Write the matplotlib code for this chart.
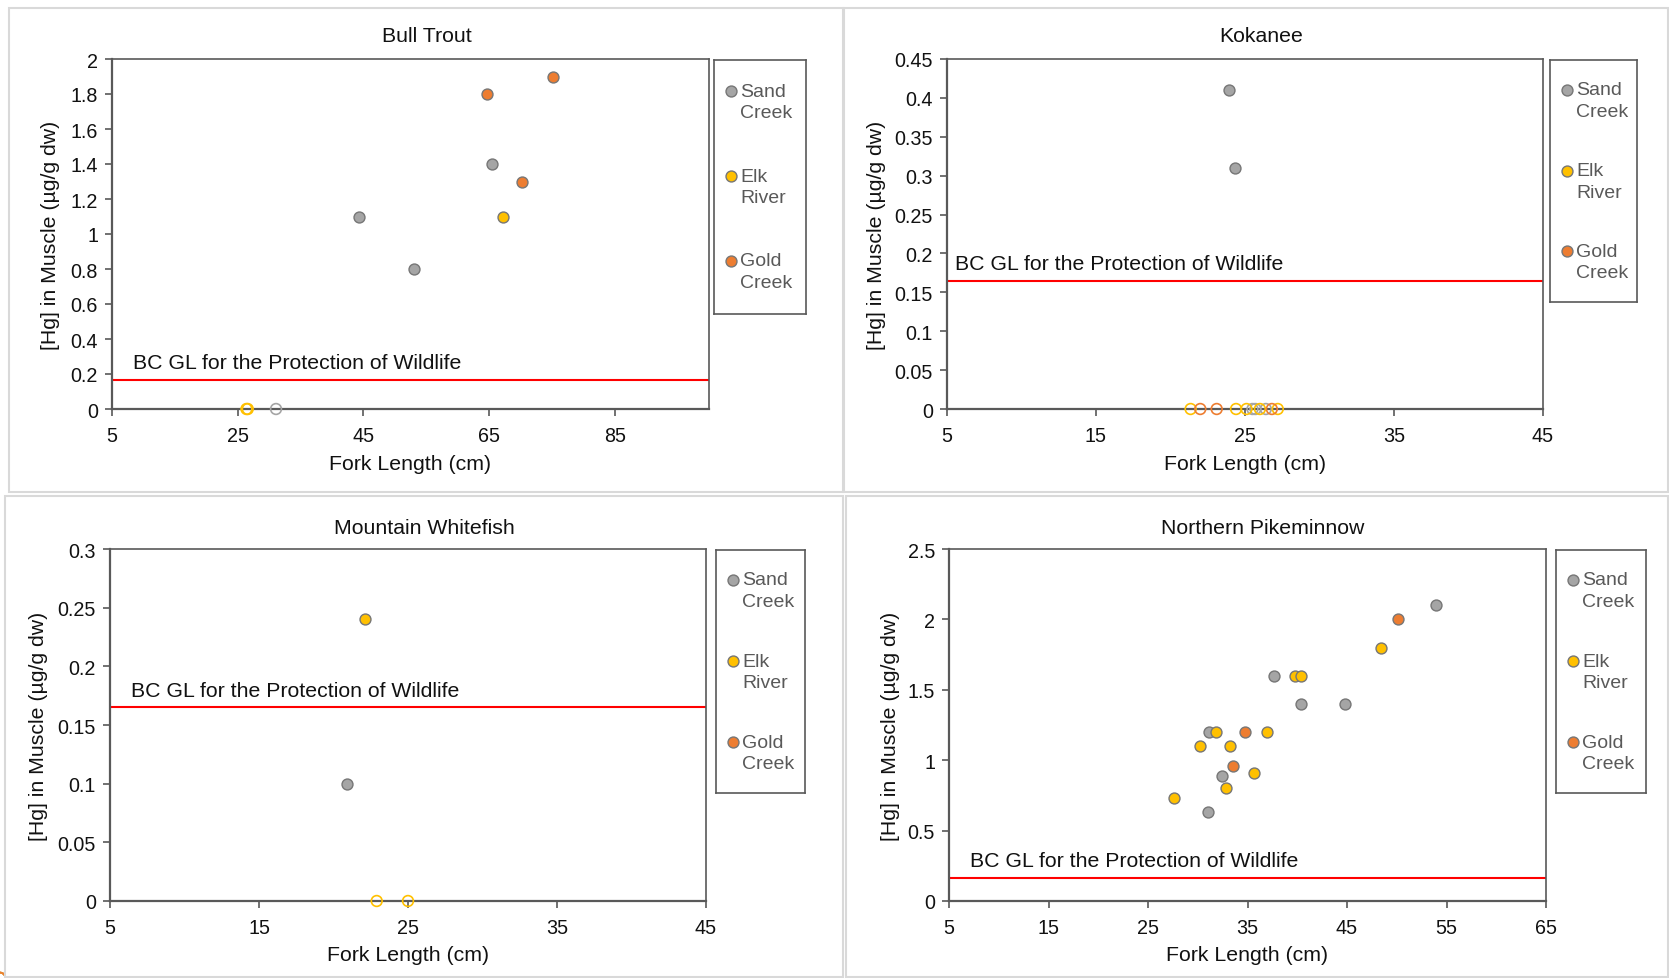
import numpy as np
import matplotlib.pyplot as plt
from matplotlib.patches import Rectangle
from matplotlib.ticker import FuncFormatter
import matplotlib.transforms as mtransforms

plt.rcParams['font.family'] = ['Liberation Sans', 'DejaVu Sans']

# ---- data (fork length cm, [Hg] ug/g dw); zeros are non-detects ----
series = ["Sand Creek", "Elk River", "Gold Creek"]
colors = ["#A5A5A5", "#FFC000", "#ED7D31"]

bull_x = [[44.3, 53.0, 65.5], [67.2], [64.7, 75.2, 70.3]]
bull_y = [[1.1, 0.8, 1.4], [1.1], [1.8, 1.9, 1.3]]
bull_nd = [[31.1], [26.4, 26.6], []]

kok_x = [[23.9, 24.3], [], []]
kok_y = [[0.41, 0.31], [], []]
kok_nd = [[25.5, 25.7, 26.4], [21.35, 24.4, 25.1, 26.0, 27.2], [22.0, 23.1, 26.8]]

mwf_x = [[20.9], [22.1], []]
mwf_y = [[0.10], [0.24], []]
mwf_nd = [[], [22.9, 25.0], []]

npm_x = [[53.9, 37.7, 40.4, 44.8, 31.1, 32.4, 31.0],
         [48.4, 39.8, 40.4, 31.8, 37.0, 30.2, 33.2, 35.7, 32.8, 27.6],
         [50.1, 34.7, 33.5]]
npm_y = [[2.10, 1.60, 1.40, 1.40, 1.20, 0.89, 0.63],
         [1.80, 1.60, 1.60, 1.20, 1.20, 1.10, 1.10, 0.91, 0.80, 0.73],
         [2.00, 1.20, 0.96]]
npm_nd = [[], [], []]

guideline = 0.165
gl_label = "BC GL for the Protection of Wildlife"

W, H = 1669, 979
fig = plt.figure(figsize=(W / 100, H / 100), dpi=100)


def fbox(x0, y0, x1, y1):
    return [x0 / W, 1 - y1 / H, (x1 - x0) / W, (y1 - y0) / H]


panels = [
    dict(title="Bull Trout", xs=bull_x, ys=bull_y, nd=bull_nd,
         xlim=(5, 100), xticks=[5, 25, 45, 65, 85],
         ylim=(0, 2), yticks=np.arange(0, 2.01, 0.2),
         plot=(112, 60, 709, 410), leg=(714, 61, 806, 315),
         frame=(8.5, 8.5, 843, 493), tpos=(427, 36), gx=0.036, ylx=62),
    dict(title="Kokanee", xs=kok_x, ys=kok_y, nd=kok_nd,
         xlim=(5, 45), xticks=[5, 15, 25, 35, 45],
         ylim=(0, 0.45), yticks=np.arange(0, 0.451, 0.05),
         plot=(947, 60, 1543, 410), leg=(1550, 61, 1637, 303),
         frame=(844, 8.5, 1668, 493), tpos=(1261, 36), gx=0.014, ylx=71),
    dict(title="Mountain Whitefish", xs=mwf_x, ys=mwf_y, nd=mwf_nd,
         xlim=(5, 45), xticks=[5, 15, 25, 35, 45],
         ylim=(0, 0.3), yticks=np.arange(0, 0.301, 0.05),
         plot=(110, 550, 706, 902), leg=(716, 551, 805, 794),
         frame=(5, 497, 843, 978), tpos=(424, 528), gx=0.036, ylx=72),
    dict(title="Northern Pikeminnow", xs=npm_x, ys=npm_y, nd=npm_nd,
         xlim=(5, 65), xticks=[5, 15, 25, 35, 45, 55, 65],
         ylim=(0, 2.5), yticks=np.arange(0, 2.51, 0.5),
         plot=(949, 550, 1546, 902), leg=(1556, 551, 1646, 794),
         frame=(846, 497, 1668, 978), tpos=(1263, 528), gx=0.036, ylx=59),
]

fmt = FuncFormatter(lambda v, p: "{:g}".format(round(v, 4)))
dark = "#595959"
ink = "#111111"

for p in panels:
    x0, y0, x1, y1 = p["frame"]
    fig.patches.append(Rectangle((x0 / W, 1 - y1 / H), (x1 - x0) / W, (y1 - y0) / H,
                                 transform=fig.transFigure, fill=False,
                                 edgecolor="#d9d9d9", linewidth=1.5))
    fig.text(p["tpos"][0] / W, 1 - p["tpos"][1] / H, p["title"],
             ha="center", va="center", fontsize=15.3, color=ink)

    ax = fig.add_axes(fbox(*p["plot"]))
    for i, name in enumerate(series):
        ax.scatter(p["xs"][i], p["ys"][i], s=62, color=colors[i],
                   edgecolor="#767676", linewidth=1.0, zorder=3, clip_on=False)
        ax.scatter(p["nd"][i], [0] * len(p["nd"][i]), s=60, facecolor="none",
                   edgecolor=colors[i], linewidth=1.2, zorder=4, clip_on=False)
    ax.axhline(guideline, color="#ff0000", linewidth=1.5, zorder=2)
    trans = mtransforms.blended_transform_factory(ax.transAxes, ax.transData)
    ax.annotate(gl_label, xy=(p["gx"], guideline), xycoords=trans,
                xytext=(0, 8.5), textcoords="offset points",
                ha="left", va="baseline", fontsize=15.3, color=ink)

    ax.set_xlim(*p["xlim"])
    ax.set_ylim(*p["ylim"])
    ax.set_xticks(p["xticks"])
    ax.set_yticks(p["yticks"])
    ax.xaxis.set_major_formatter(fmt)
    ax.yaxis.set_major_formatter(fmt)
    ax.tick_params(direction="out", length=5, width=1.2, color=dark,
                   labelsize=14.2, labelcolor=ink, pad=5)
    ax.tick_params(axis="x", pad=7)
    for side in ["top", "right"]:
        ax.spines[side].set_color(dark)
        ax.spines[side].set_linewidth(1.2)
    for side in ["left", "bottom"]:
        ax.spines[side].set_color(dark)
        ax.spines[side].set_linewidth(1.6)

    ph = p["plot"][3] - p["plot"][1]
    pw = p["plot"][2] - p["plot"][0]
    ax.set_xlabel("Fork Length (cm)", fontsize=15.3, color=ink, va="center")
    ax.xaxis.set_label_coords(0.5, -54 / ph)
    ax.set_ylabel("[Hg] in Muscle (\u00b5g/g dw)", fontsize=15.3, color=ink,
                  va="center")
    ax.yaxis.set_label_coords(-p["ylx"] / pw, 0.5)

    # legend box
    lg = fig.add_axes(fbox(*p["leg"]))
    lg.set_xlim(0, 1)
    lg.set_ylim(0, 1)
    lg.set_xticks([])
    lg.set_yticks([])
    for s in lg.spines.values():
        s.set_color(dark)
        s.set_linewidth(1.2)
    lw = p["leg"][2] - p["leg"][0]
    lh = p["leg"][3] - p["leg"][1]
    for i, name in enumerate(series):
        yy = 1 - (0.123 + 0.334 * i)
        lg.scatter([17 / lw], [yy], s=62, color=colors[i], edgecolor="#767676",
                   linewidth=1.0)
        for j, word in enumerate(name.split(" ")):
            lg.text(26 / lw, yy - j * 21.5 / lh, word, fontsize=14, color=dark,
                    ha="left", va="center")

fig.savefig("out.png", dpi=100)
